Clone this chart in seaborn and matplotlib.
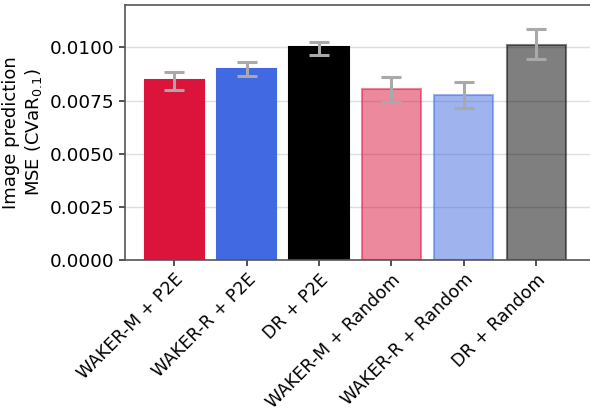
import matplotlib
matplotlib.use("Agg")
import matplotlib.pyplot as plt
import seaborn as sns
import pandas as pd
import numpy as np

methods = ["WAKER-M + P2E", "WAKER-R + P2E", "DR + P2E",
           "WAKER-M + Random", "WAKER-R + Random", "DR + Random"]
mse = [0.00845, 0.00901, 0.01000, 0.00803, 0.00775, 0.01014]
err_low = [0.00798, 0.00864, 0.00967, 0.00742, 0.00714, 0.00944]
err_high = [0.00887, 0.00930, 0.01028, 0.00859, 0.00840, 0.01085]
colors = ["crimson", "royalblue", "black", "crimson", "royalblue", "black"]
alphas = [1.0, 1.0, 1.0, 0.5, 0.5, 0.5]

df = pd.DataFrame({"method": methods, "mse": mse})

sns.set_style("ticks")
plt.rcParams['font.family'] = ['DejaVu Sans']

fig = plt.figure(figsize=(5.9, 4.13), dpi=100)
ax = fig.add_axes([0.212, 0.370, 0.79, 0.618])

sns.barplot(data=df, x="method", y="mse", hue="method", palette=colors,
            saturation=1, legend=False, width=0.82, ax=ax, linewidth=1.5)
for patch, c, a in zip(ax.patches, colors, alphas):
    patch.set_edgecolor(c)
    patch.set_alpha(a)

x = np.arange(len(methods))
lo = np.array(mse) - np.array(err_low)
hi = np.array(err_high) - np.array(mse)
ax.errorbar(x, mse, yerr=[lo, hi], fmt="none", ecolor="darkgray",
            elinewidth=2.2, capsize=7, capthick=2.2, zorder=5)

ax.set_ylim(0, 0.012)
ax.set_xlim(-0.68, 5.76)
ax.set_yticks([0.0, 0.0025, 0.005, 0.0075, 0.01])
ax.set_yticklabels(["0.0000", "0.0025", "0.0050", "0.0075", "0.0100"])
ax.yaxis.grid(True, color="#dddddd", linewidth=1)
ax.set_axisbelow(True)
ax.set_xlabel("")
ax.set_ylabel("Image prediction\nMSE (CVaR$_{0.1}$)", fontsize=13, color="black")
ax.tick_params(axis="y", labelsize=13.2, color="#333333", labelcolor="black", width=1.2, length=4)
ax.tick_params(axis="x", labelsize=12.5, color="#333333", labelcolor="black", width=1.2, length=4)
plt.setp(ax.get_xticklabels(), rotation=45, ha="right", rotation_mode="anchor")
for side in ["left", "top", "bottom"]:
    ax.spines[side].set_color("#555555")
    ax.spines[side].set_linewidth(1.2)
ax.spines["right"].set_visible(False)

fig.savefig("out.png", dpi=100)
